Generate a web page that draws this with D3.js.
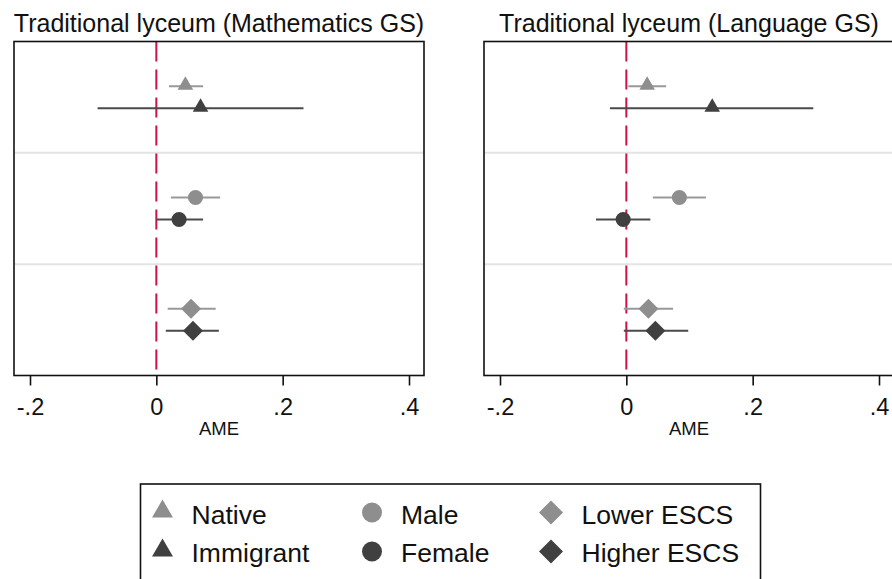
<!DOCTYPE html>
<html>
<head>
<meta charset="utf-8">
<script src="https://cdn.jsdelivr.net/npm/d3@7"></script>
<style>
  html, body { margin: 0; padding: 0; background: #fff; }
  svg { display: block; font-family: "Liberation Sans", Arial, sans-serif; }
</style>
</head>
<body>
<svg id="chart" width="892" height="579"></svg>
<script>
// ---- Data ----
const panelTitles = ["Traditional lyceum (Mathematics GS)", "Traditional lyceum (Language GS)"];
const groups = ["Migration", "Gender", "ESCS"];
const categories = ["Native", "Immigrant", "Male", "Female", "Lower ESCS", "Higher ESCS"];
const categoryGroup = ["Migration", "Migration", "Gender", "Gender", "ESCS", "ESCS"];
const categoryShade = ["light", "dark", "light", "dark", "light", "dark"];
const categoryShape = ["triangle", "triangle", "circle", "circle", "diamond", "diamond"];

const mathAME = [0.046, 0.070, 0.062, 0.036, 0.055, 0.058];
const mathLow = [0.020, -0.093, 0.023, 0.000, 0.018, 0.015];
const mathHigh = [0.074, 0.233, 0.101, 0.074, 0.094, 0.099];

const langAME = [0.033, 0.136, 0.084, -0.005, 0.035, 0.046];
const langLow = [0.003, -0.026, 0.042, -0.048, -0.004, -0.004];
const langHigh = [0.063, 0.296, 0.126, 0.038, 0.074, 0.098];

const tickValues = [-0.2, 0, 0.2, 0.4];
const tickLabels = ["-.2", "0", ".2", ".4"];
const xTitle = "AME";

// ---- Styling ----
const colors = { light: "#8e8e8e", dark: "#404040" };
const svg = d3.select("#chart");
const plotTop = 41.5, plotBottom = 375.5;
const panels = [
  { x0: 14, x1: 424, title: panelTitles[0], ame: mathAME, lo: mathLow, hi: mathHigh },
  { x0: 484, x1: 894, title: panelTitles[1], ame: langAME, lo: langLow, hi: langHigh }
];

const yBand = d3.scaleBand().domain(groups).range([plotTop, plotBottom]).paddingInner(0).paddingOuter(0);
const within = d3.scalePoint().domain(["light", "dark"]).range([-11, 11]);

function shapeSym(shape) {
  return shape === "triangle" ? d3.symbolTriangle : shape === "circle" ? d3.symbolCircle : d3.symbolSquare;
}
function shapeSize(shape, legend) {
  if (shape === "triangle") return legend ? 190 : 105;
  if (shape === "circle") return legend ? 314 : 180;
  return legend ? 288 : 200;
}

panels.forEach(p => {
  const x = d3.scaleLinear()
    .domain([-0.2 - 16 / 631.67, 0.4 + 15 / 631.67])
    .range([p.x0, p.x1]);
  const g = svg.append("g");
  const cx = (p.x0 + p.x1) / 2;

  // title
  g.append("text")
    .attr("x", cx).attr("y", 31.5)
    .attr("text-anchor", "middle")
    .attr("font-size", 25)
    .attr("fill", "#111")
    .text(p.title);

  // group separators
  groups.slice(1).forEach(gr => {
    g.append("line")
      .attr("x1", p.x0).attr("x2", p.x1)
      .attr("y1", yBand(gr)).attr("y2", yBand(gr))
      .attr("stroke", "#e3e3e3").attr("stroke-width", 2);
  });

  // zero reference line
  g.append("line")
    .attr("x1", x(0)).attr("x2", x(0))
    .attr("y1", plotTop).attr("y2", plotBottom)
    .attr("stroke", "#cf1346").attr("stroke-width", 2)
    .attr("stroke-dasharray", "20,8");

  // CIs
  categories.forEach((c, i) => {
    const y = yBand(categoryGroup[i]) + yBand.bandwidth() / 2 + within(categoryShade[i]);
    g.append("line")
      .attr("x1", x(p.lo[i])).attr("x2", x(p.hi[i]))
      .attr("y1", y).attr("y2", y)
      .attr("stroke", categoryShade[i] === "light" ? "#999" : "#4a4a4a")
      .attr("stroke-width", 2);
  });
  // markers
  categories.forEach((c, i) => {
    const y = yBand(categoryGroup[i]) + yBand.bandwidth() / 2 + within(categoryShade[i]);
    const shape = categoryShape[i];
    const sym = d3.symbol().type(shapeSym(shape)).size(shapeSize(shape, false));
    const dy = shape === "triangle" ? -1 : 0;
    g.append("path")
      .attr("d", sym())
      .attr("transform", `translate(${x(p.ame[i])},${y + dy})` + (shape === "diamond" ? " rotate(45)" : ""))
      .attr("fill", colors[categoryShade[i]]);
  });

  // frame
  g.append("rect")
    .attr("x", p.x0).attr("y", plotTop)
    .attr("width", p.x1 - p.x0).attr("height", plotBottom - plotTop)
    .attr("fill", "none").attr("stroke", "#111").attr("stroke-width", 1.6);

  // axis
  const axis = d3.axisBottom(x).tickValues(tickValues)
    .tickFormat((d, i) => tickLabels[i]).tickSize(10).tickPadding(8);
  const ax = g.append("g").attr("transform", `translate(0,${plotBottom})`).call(axis);
  ax.select(".domain").remove();
  ax.selectAll(".tick line").attr("stroke", "#111").attr("stroke-width", 1.6);
  ax.selectAll(".tick text").attr("font-size", 23.5).attr("fill", "#111")
    .attr("font-family", "Liberation Sans, Arial, sans-serif")
    .attr("dy", null).attr("y", 39.5);

  g.append("text")
    .attr("x", cx).attr("y", 435)
    .attr("text-anchor", "middle")
    .attr("font-size", 18.5).attr("fill", "#111")
    .text(xTitle);
});

// ---- Legend ----
const lg = svg.append("g");
lg.append("rect")
  .attr("x", 140.5).attr("y", 484)
  .attr("width", 620).attr("height", 120)
  .attr("fill", "none").attr("stroke", "#111").attr("stroke-width", 1.6);

const colMarkerX = [162.5, 372, 551];
const colTextX = [191.5, 401, 581.5];
const rowMarkerY = [512.5, 551.5];
const rowTextY = [523.5, 561.5];
categories.forEach((c, i) => {
  const col = Math.floor(i / 2), row = i % 2;
  const shape = categoryShape[i];
  const sym = d3.symbol().type(shapeSym(shape)).size(shapeSize(shape, true));
  const dy = shape === "triangle" ? -1 : 0;
  lg.append("path")
    .attr("d", sym())
    .attr("transform", `translate(${colMarkerX[col]},${rowMarkerY[row] + dy})` + (shape === "diamond" ? " rotate(45)" : ""))
    .attr("fill", colors[categoryShade[i]]);
  lg.append("text")
    .attr("x", colTextX[col]).attr("y", rowTextY[row])
    .attr("font-size", 26.5).attr("fill", "#111")
    .text(c);
});
</script>
</body>
</html>
